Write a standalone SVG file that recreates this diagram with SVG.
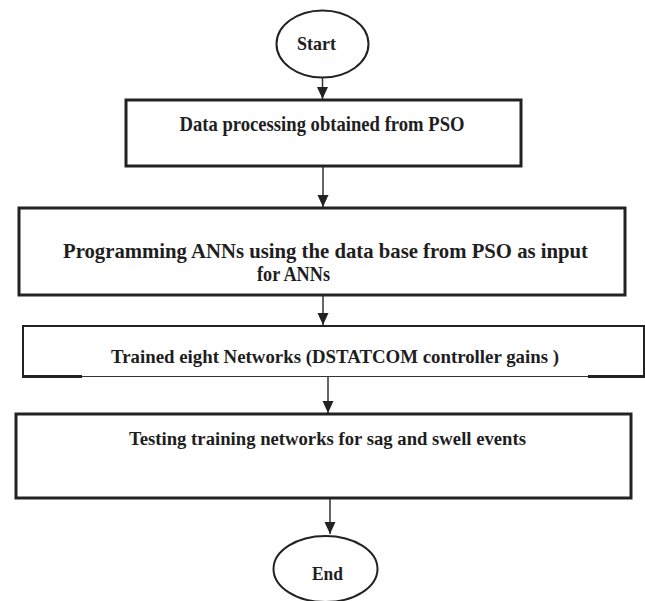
<svg xmlns="http://www.w3.org/2000/svg" width="645" height="601" viewBox="0 0 645 601">
<style>
  .box { fill: #fff; stroke: #222; stroke-width: 3; }
  .term { fill: #fff; stroke: #222; stroke-width: 2; }
  .lbl { font-family: 'Liberation Serif', 'DejaVu Serif', 'Times New Roman', serif; font-weight: bold; fill: #1e1e1e; text-anchor: middle; }
  .conn { stroke: #333; stroke-width: 1.5; fill: none; marker-end: url(#arr); }
</style>
<defs>
  <marker id="arr" markerUnits="userSpaceOnUse" markerWidth="13" markerHeight="13" refX="12" refY="6" orient="auto">
    <path d="M0,0.5 L12,6 L0,11.5 Z" fill="#222"/>
  </marker>
</defs>
<rect width="645" height="601" fill="#fff"/>
<g id="connectors">
  <line class="conn" x1="322.5" y1="78" x2="322.5" y2="99"/>
  <line class="conn" x1="323" y1="166" x2="323" y2="207"/>
  <line class="conn" x1="323" y1="296" x2="323" y2="325"/>
  <line class="conn" x1="328" y1="377" x2="328" y2="413"/>
  <line class="conn" x1="330" y1="499" x2="330" y2="534"/>
</g>
<g id="start">
  <ellipse class="term" cx="322.5" cy="44" rx="46" ry="33.5"/>
  <text class="lbl" x="316.5" y="50" font-size="19.5" textLength="39" lengthAdjust="spacingAndGlyphs">Start</text>
</g>
<g id="data-processing">
  <rect class="box" x="126" y="100" width="395" height="66"/>
  <text class="lbl" x="322" y="131" font-size="21" textLength="285" lengthAdjust="spacingAndGlyphs">Data processing obtained from PSO</text>
</g>
<g id="programming">
  <rect class="box" x="19" y="208" width="606" height="87"/>
  <text class="lbl" x="325.5" y="258" font-size="22" textLength="525" lengthAdjust="spacingAndGlyphs">Programming ANNs using the data base from PSO as input</text>
  <text class="lbl" x="293.5" y="281" font-size="22" textLength="73" lengthAdjust="spacingAndGlyphs">for ANNs</text>
</g>
<g id="trained">
  <path d="M23,377 L23,326 L644,326 L644,377" fill="#fff" stroke="#222" stroke-width="2"/>
  <line x1="23" y1="376.5" x2="644" y2="376.5" stroke="#333" stroke-width="1"/>
  <line x1="22" y1="376.5" x2="82" y2="376.5" stroke="#222" stroke-width="3"/>
  <line x1="588" y1="376.5" x2="645" y2="376.5" stroke="#222" stroke-width="3"/>
  <text class="lbl" x="335" y="363" font-size="19.5" textLength="448" lengthAdjust="spacingAndGlyphs">Trained eight Networks (DSTATCOM controller gains )</text>
</g>
<g id="testing">
  <rect class="box" x="16" y="414" width="615" height="84"/>
  <text class="lbl" x="327.5" y="445" font-size="18.5" textLength="397" lengthAdjust="spacingAndGlyphs">Testing training networks for sag and swell events</text>
</g>
<g id="end">
  <ellipse class="term" cx="325.5" cy="569" rx="52" ry="33"/>
  <text class="lbl" x="327.5" y="580" font-size="19.5" textLength="31" lengthAdjust="spacingAndGlyphs">End</text>
</g>
</svg>
